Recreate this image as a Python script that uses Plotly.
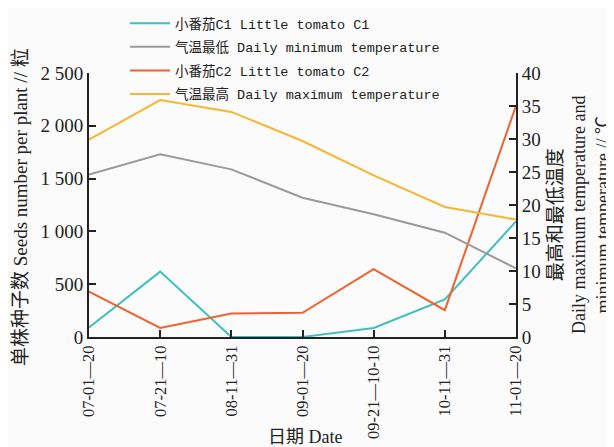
import plotly.graph_objects as go

dates = ["07-01—20", "07-21—10", "08-11—31", "09-01—20", "09-21—10-10", "10-11—31", "11-01—20"]
seeds_c1 = [90, 619, 0, 0, 86, 356, 1095]
seeds_c2 = [429, 86, 223, 229, 642, 254, 2190]
temp_min = [24.6, 27.7, 25.4, 21.1, 18.6, 15.8, 10.4]
temp_max = [29.9, 35.9, 34.1, 29.7, 24.5, 19.7, 17.8]

seed_ticks = [0, 500, 1000, 1500, 2000, 2500]
seed_ticktext = ["0", "500", "1 000", "1 500", "2 000", "2 500"]

FONT = "Liberation Serif, Noto Sans CJK SC"
LEGFONT = "Liberation Mono, Noto Sans CJK SC"
INK = "#222222"

W, H = 606, 439  # the page body adds an 8px margin around the figure

fig = go.Figure()
series = [
    ("小番茄C1 Little tomato C1", seeds_c1, "#3fbfbf", "y"),
    ("气温最低 Daily minimum temperature", temp_min, "#9a9a9a", "y2"),
    ("小番茄C2 Little tomato C2", seeds_c2, "#f0622d", "y"),
    ("气温最高 Daily maximum temperature", temp_max, "#f5b731", "y2"),
]
for name, vals, color, ax in series:
    fig.add_trace(go.Scatter(x=dates, y=vals, mode="lines", name=name, legendgroup=name,
                             line=dict(color=color, width=2), yaxis=ax))

axis_common = dict(showline=True, linecolor=INK, linewidth=2, ticks="inside", ticklen=7,
                   tickcolor=INK, tickwidth=2, showgrid=False, zeroline=False, automargin=False)

x_dom = [81 / W, 508 / W]
y_dom = [1 - 329 / H, 1 - 65 / H]

fig.update_layout(
    width=W, height=H,
    margin=dict(l=0, r=0, t=0, b=0),
    paper_bgcolor="#fbfbfb", plot_bgcolor="#fbfbfb",
    font=dict(family=FONT, size=16, color=INK),
    showlegend=True,
    legend=dict(x=117 / W, y=1.0, xanchor="left", yanchor="top", bgcolor="rgba(0,0,0,0)",
                font=dict(family=LEGFONT, size=13.5), itemwidth=40, tracegroupgap=3),
    xaxis=dict(type="category", range=[0, 6], domain=x_dom, tickangle=-90,
               tickfont=dict(size=16.5), **axis_common),
    yaxis=dict(range=[0, 2500], domain=y_dom, tickvals=seed_ticks, ticktext=seed_ticktext,
               tickfont=dict(size=19), **axis_common),
    yaxis2=dict(range=[0, 40], dtick=5, overlaying="y", side="right",
                tickfont=dict(size=19), **axis_common),
)

# axis titles
fig.add_annotation(xref="paper", yref="paper", x=12 / W, y=1 - 199 / H, textangle=-90,
                   text="单株种子数 Seeds number per plant // 粒", showarrow=False,
                   font=dict(size=19), xanchor="center", yanchor="middle")
fig.add_annotation(xref="paper", yref="paper", x=297 / W, y=1 - 429 / H,
                   text="日期 Date", showarrow=False, font=dict(size=18),
                   xanchor="center", yanchor="middle")
fig.add_annotation(xref="paper", yref="paper", x=571 / W, y=1 - 207 / H, textangle=-90,
                   text="<span style='font-size:19px'>最高和最低温度</span><br>Daily maximum temperature and<br>minimum temperature // ℃",
                   showarrow=False, font=dict(size=18), align="center",
                   xanchor="center", yanchor="middle")

fig.write_html("out.html")
